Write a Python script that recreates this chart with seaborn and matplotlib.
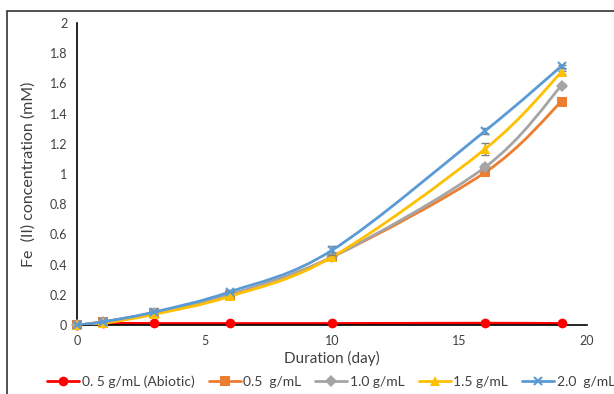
import numpy as np
import pandas as pd
import matplotlib
matplotlib.use("Agg")
import matplotlib.pyplot as plt
import seaborn as sns
from matplotlib.patches import Rectangle, PathPatch
from matplotlib.path import Path

days = [0, 1, 3, 6, 10, 16, 19]
series_names = ["0. 5 g/mL (Abiotic)", "0.5  g/mL", "1.0 g/mL", "1.5 g/mL", "2.0  g/mL"]
abiotic = [0.0, 0.01, 0.01, 0.01, 0.01, 0.012, 0.01]
s05 = [0.0, 0.02, 0.08, 0.20, 0.45, 1.01, 1.48]
s10 = [0.0, 0.02, 0.08, 0.20, 0.45, 1.045, 1.585]
s15 = [0.0, 0.01, 0.07, 0.19, 0.45, 1.165, 1.675]
s20 = [0.0, 0.02, 0.085, 0.22, 0.495, 1.285, 1.715]
err05 = [0, 0, 0, 0, 0.01, 0.015, 0.01]
err10 = [0, 0, 0, 0, 0.01, 0.02, 0.01]
err15 = [0, 0, 0, 0, 0.01, 0.04, 0.01]
err20 = [0, 0, 0, 0, 0.03, 0.02, 0.01]
errab = [0, 0, 0, 0, 0, 0, 0]

values = [abiotic, s05, s10, s15, s20]
errors = [errab, err05, err10, err15, err20]
colors = ["#FF0000", "#ED7D31", "#A5A5A5", "#FFC000", "#5B9BD5"]
markers = ["o", "s", "D", "^", "x"]

rows = []
for name, vals in zip(series_names, values):
    for d, v in zip(days, vals):
        rows.append({"day": d, "conc": v, "series": name})
df = pd.DataFrame(rows)


def smooth_path(xs, ys):
    # Excel-like smoothed line: cubic Bezier segments (Catmull-Rom control points)
    xs = np.asarray(xs, float)
    ys = np.asarray(ys, float)
    n = len(xs)
    verts = [(xs[0], ys[0])]
    codes = [Path.MOVETO]
    for i in range(n - 1):
        i0 = max(i - 1, 0)
        i3 = min(i + 2, n - 1)
        c1 = (xs[i] + (xs[i + 1] - xs[i0]) / 6, ys[i] + (ys[i + 1] - ys[i0]) / 6)
        c2 = (xs[i + 1] - (xs[i3] - xs[i]) / 6, ys[i + 1] - (ys[i3] - ys[i]) / 6)
        verts += [c1, c2, (xs[i + 1], ys[i + 1])]
        codes += [Path.CURVE4] * 3
    return Path(verts, codes)


sns.set_theme(style="white")
plt.rcParams["font.family"] = ["Lato", "DejaVu Sans"]

fig = plt.figure(figsize=(6.14, 3.94), dpi=100)
ax = fig.add_axes([77/614, 1-325/394, (587-77)/614, (325-23)/394])

for k, (name, vals, err, c, m) in enumerate(zip(series_names, values, errors, colors, markers)):
    sub = df[df["series"] == name]
    if any(e > 0 for e in err):
        ax.errorbar(days, vals, yerr=err, fmt="none", ecolor="#7F7F7F",
                    elinewidth=1, capsize=3, capthick=1, zorder=2 + k)
    ax.add_patch(PathPatch(smooth_path(sub["day"], sub["conc"]), facecolor="none",
                           edgecolor=c, linewidth=2, zorder=2.5 + k))
    ms = 7 if m in ("o", "s", "^") else 6
    sns.lineplot(data=sub, x="day", y="conc", ax=ax, color=c, marker=m,
                 markersize=ms, markeredgewidth=1.5 if m == "x" else 0,
                 markeredgecolor=c, linewidth=0, label=name, legend=False,
                 zorder=2.6 + k, clip_on=False)

ax.set_xlim(0, 20)
ax.set_ylim(0, 2)
ax.set_xticks([0, 5, 10, 15, 20])
ax.set_yticks(np.arange(0, 2.01, 0.2))
ax.set_yticklabels(["0", "0.2", "0.4", "0.6", "0.8", "1", "1.2", "1.4", "1.6", "1.8", "2"])
ax.tick_params(axis="both", labelsize=9, colors="#404040", length=0, pad=7)
ax.spines["top"].set_visible(False)
ax.spines["right"].set_visible(False)
ax.spines["left"].set_color("black")
ax.spines["bottom"].set_color("black")
ax.spines["left"].set_linewidth(1.2)
ax.spines["bottom"].set_linewidth(1.2)
ax.set_xlabel("Duration (day)", fontsize=11, color="#404040", labelpad=3)
ax.set_ylabel("Fe  (II) concentration (mM)", fontsize=11.5, color="#404040", labelpad=10)
ax.patch.set_alpha(0)

handles = [plt.Line2D([], [], color=c, marker=m, markersize=7 if m in ("o", "s", "^") else 6,
                      markeredgewidth=1.5 if m == "x" else 0, markeredgecolor=c, linewidth=2)
           for c, m in zip(colors, markers)]
fig.legend(handles, series_names, loc="center", bbox_to_anchor=(331/614, 1-382/394),
           ncol=5, frameon=False, fontsize=10, handlelength=2.3, handletextpad=0.2,
           columnspacing=1.0, labelcolor="#404040")

fig.patches.append(Rectangle((7/614, -0.1), 1.2, 1 - 11/394 + 0.1, transform=fig.transFigure,
                             fill=False, edgecolor="#333333", linewidth=1.2))

fig.savefig("out.png", dpi=100)
